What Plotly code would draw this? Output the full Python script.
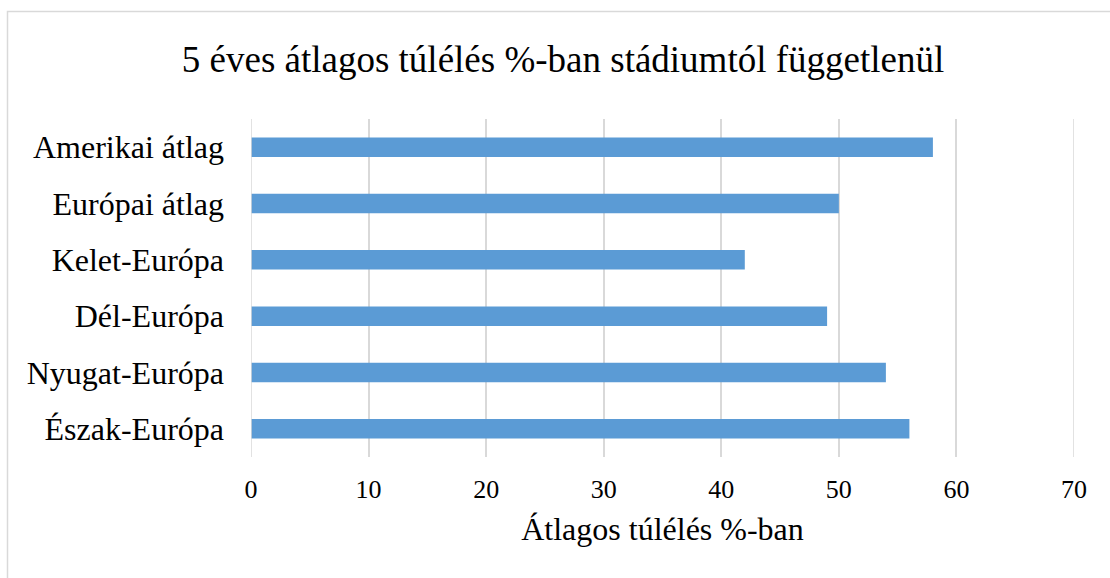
import plotly.graph_objects as go

categories = ["Amerikai átlag", "Európai átlag", "Kelet-Európa", "Dél-Európa", "Nyugat-Európa", "Észak-Európa"]
values = [58, 50, 42, 49, 54, 56]
x_ticks = [0, 10, 20, 30, 40, 50, 60, 70]

title_text = "5 éves átlagos túlélés %-ban stádiumtól függetlenül"
x_title = "Átlagos túlélés %-ban"

FONT = "Liberation Serif, Times New Roman, serif"

fig = go.Figure(go.Bar(
    x=values, y=categories, orientation="h",
    marker=dict(color="#5B9BD5", line=dict(width=0)),
))

W, H = 1110, 578
L, R, T, B = 251, 36, 119, 121
pw, ph = W - L - R, H - T - B
GRID = "#d9d9d9"

fig.update_layout(
    width=W, height=H,
    margin=dict(l=L, r=R, t=T, b=B),
    paper_bgcolor="white", plot_bgcolor="white",
    bargap=0.654,
    showlegend=False,
    font=dict(family=FONT, color="black"),
    title=dict(text=title_text, font=dict(family=FONT, size=37, color="black"),
               x=563 / W, xref="container", xanchor="center",
               y=1 - 59 / H, yref="container", yanchor="middle"),
    xaxis=dict(range=[x_ticks[0], x_ticks[-1]], tickvals=x_ticks, showgrid=True, gridcolor=GRID, gridwidth=1.5,
               zeroline=False, showline=False, ticks="", ticklabelstandoff=14,
               tickfont=dict(family=FONT, size=26, color="black"),
               title=dict(text=x_title, font=dict(family=FONT, size=32, color="black"), standoff=14)),
    yaxis=dict(autorange="reversed", showgrid=False, zeroline=False, showline=False, ticks="",
               ticklabelstandoff=26,
               tickfont=dict(family=FONT, size=32, color="black")),
    shapes=[
        dict(type="line", xref="x", yref="paper", x0=x_ticks[0], x1=x_ticks[0], y0=0, y1=1,
             line=dict(color=GRID, width=1.5), layer="above"),
        dict(type="line", xref="x", yref="paper", x0=x_ticks[-1], x1=x_ticks[-1], y0=0, y1=1,
             line=dict(color=GRID, width=1.5), layer="below"),
        dict(type="rect", xref="paper", yref="paper",
             x0=(7.5 - L) / pw, x1=(1120 - L) / pw,
             y0=-(590 - (H - B)) / ph, y1=(H - B - 11.5) / ph,
             line=dict(color=GRID, width=1.5), fillcolor="rgba(0,0,0,0)", layer="below"),
    ],
)

fig.write_html("out.html")
